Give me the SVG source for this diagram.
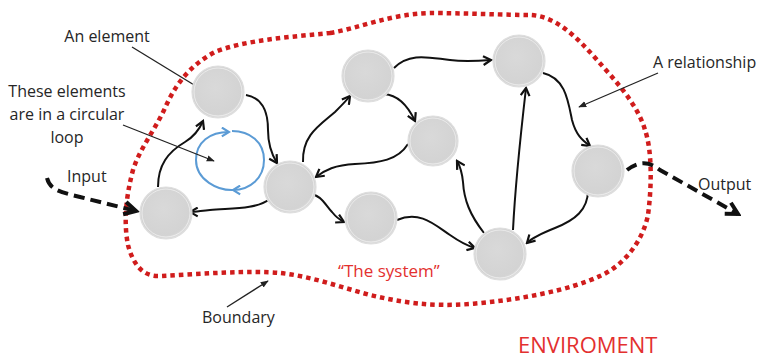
<svg xmlns="http://www.w3.org/2000/svg" width="761" height="358" viewBox="0 0 761 358">
  <style>
    .lbl { font-family: "Open Sans", "Liberation Sans", sans-serif; font-size: 16px; fill: #262626; }
    .red { font-family: "Open Sans", "Liberation Sans", sans-serif; fill: #e3302f; }
    .edge { fill: none; stroke: #111; stroke-width: 2; marker-end: url(#arr); }
    .ptr { fill: none; stroke: #222; stroke-width: 1.3; marker-end: url(#tip); }
    .io { fill: none; stroke: #111; stroke-width: 4; stroke-dasharray: 11 6; marker-end: url(#big); }
    .node { fill: url(#ball); stroke: #dedede; stroke-width: 1.2; }
    .rim { fill: none; stroke: #ffffff; stroke-opacity: 0.5; stroke-width: 1; }
  </style>
  <defs>
    <radialGradient id="ball" cx="0.45" cy="0.42" r="0.6">
      <stop offset="0" stop-color="#d9d9d9"/>
      <stop offset="0.85" stop-color="#d3d3d3"/>
      <stop offset="1" stop-color="#dedede"/>
    </radialGradient>
    <marker id="arr" viewBox="0 0 10 10" refX="8.5" refY="5" markerWidth="11" markerHeight="11" markerUnits="userSpaceOnUse" orient="auto">
      <path d="M1.5,1 L8.5,5 L1.5,9" fill="none" stroke="#111" stroke-width="2"/>
    </marker>
    <marker id="tip" viewBox="0 0 10 10" refX="9" refY="5" markerWidth="8" markerHeight="8" markerUnits="userSpaceOnUse" orient="auto">
      <path d="M0,1 L10,5 L0,9 Z" fill="#222"/>
    </marker>
    <marker id="big" viewBox="0 0 10 10" refX="8" refY="5" markerWidth="18" markerHeight="18" markerUnits="userSpaceOnUse" orient="auto">
      <path d="M1.5,1.5 L8,5 L1.5,8.5" fill="none" stroke="#111" stroke-width="2.2"/>
    </marker>
    <marker id="blue" viewBox="0 0 10 10" refX="8" refY="5" markerWidth="11" markerHeight="11" markerUnits="userSpaceOnUse" orient="auto">
      <path d="M1.5,1 L8,5 L1.5,9" fill="none" stroke="#5b9bd5" stroke-width="2"/>
    </marker>
  </defs>

  <!-- system boundary -->
  <path id="boundary" d="M330,33 C360,28 390,14 430,13 C460,13 510,15 530,15 C555,16 575,35 597,60 C615,80 638,105 645,130 C652,150 652,185 648,215 C643,240 625,265 600,276 C570,290 520,300 470,304 C430,307 400,302 370,295 C340,287 310,276 280,273 C250,270 200,274 160,276 C140,277 132,260 128,245 C124,225 125,200 133,170 C140,148 155,130 165,108 C175,85 190,65 215,52 C245,40 290,37 330,33 Z" fill="none" stroke="#d01c1c" stroke-width="4.5" stroke-dasharray="4.5 4"/>

  <!-- circular loop -->
  <g id="loop" fill="none" stroke="#5b9bd5" stroke-width="2">
    <path d="M234,190 C218,191 196,180 196,160 C196,142 210,132 229,132" marker-end="url(#blue)"/>
    <path d="M232,131 C250,131 264,142 264,160 C264,178 250,190 233,190" marker-end="url(#blue)"/>
  </g>

  <!-- relationships -->
  <g id="connectors">
    <path class="edge" d="M246,95 C262,98 268,110 268,130 C268,145 272,155 277,163"/>
    <path class="edge" d="M158,187 C158,165 168,152 185,142 C195,136 200,128 203,121"/>
    <path class="edge" d="M270,199 C255,210 230,208 210,210 C200,211 195,212 190,212"/>
    <path class="edge" d="M303,162 C302,135 320,125 335,112 C342,105 347,100 350,96"/>
    <path class="edge" d="M408,144 C398,160 380,163 355,164 C335,165 325,170 316,177"/>
    <path class="edge" d="M394,68 C410,52 430,58 450,60 C465,62 478,61 491,60"/>
    <path class="edge" d="M384,94 C398,95 408,106 415,121"/>
    <path class="edge" d="M543,73 C565,78 568,100 572,120 C576,135 582,140 590,146"/>
    <path class="edge" d="M513,230 C515,190 520,140 526,88"/>
    <path class="edge" d="M484,233 C470,215 464,200 463,182 C462,172 460,166 457,161"/>
    <path class="edge" d="M397,220 C420,210 435,225 450,235 C460,242 468,246 475,248"/>
    <path class="edge" d="M308,193 C322,195 325,205 332,212 C336,217 340,220 344,222"/>
    <path class="edge" d="M588,190 C588,210 575,220 555,228 C540,234 532,238 527,243"/>
    <!-- input and output flows -->
    <path class="io" d="M47,178 C50,190 60,192 80,197 L136,211"/>
    <path class="io" d="M627,170 C640,160 650,162 660,170 L738,214"/>
    <!-- label pointers -->
    <path class="ptr" d="M132,47 L204,91"/>
    <path class="ptr" d="M123,125 L214,161"/>
    <path class="ptr" d="M227,307 L268,281"/>
    <path class="ptr" d="M658,73 L579,107"/>
  </g>

  <!-- elements -->
  <g id="n1"><circle class="node" cx="218" cy="92" r="26"/><circle class="rim" cx="218" cy="92" r="24"/></g>
  <g id="n2"><circle class="node" cx="166" cy="213" r="26"/><circle class="rim" cx="166" cy="213" r="24"/></g>
  <g id="n3"><circle class="node" cx="290" cy="187" r="26"/><circle class="rim" cx="290" cy="187" r="24"/></g>
  <g id="n4"><circle class="node" cx="368" cy="76" r="26"/><circle class="rim" cx="368" cy="76" r="24"/></g>
  <g id="n5"><circle class="node" cx="433" cy="141" r="25"/><circle class="rim" cx="433" cy="141" r="23"/></g>
  <g id="n6"><circle class="node" cx="519" cy="61" r="26"/><circle class="rim" cx="519" cy="61" r="24"/></g>
  <g id="n7"><circle class="node" cx="598" cy="171" r="26"/><circle class="rim" cx="598" cy="171" r="24"/></g>
  <g id="n8"><circle class="node" cx="371" cy="218" r="26"/><circle class="rim" cx="371" cy="218" r="24"/></g>
  <g id="n9"><circle class="node" cx="500" cy="254" r="26"/><circle class="rim" cx="500" cy="254" r="24"/></g>

  <!-- labels -->
  <g id="labels">
    <text class="lbl" x="107" y="42" text-anchor="middle">An element</text>
    <text class="lbl" x="67" y="97" text-anchor="middle">These elements</text>
    <text class="lbl" x="67" y="120" text-anchor="middle">are in a circular</text>
    <text class="lbl" x="67" y="143" text-anchor="middle">loop</text>
    <text class="lbl" x="67" y="182">Input</text>
    <text class="lbl" x="202" y="323">Boundary</text>
    <text class="lbl" x="653" y="68">A relationship</text>
    <text class="lbl" x="698" y="190">Output</text>
    <text class="red" x="338" y="277" font-size="17">“The system”</text>
    <text class="red" x="518" y="353" font-size="22">ENVIROMENT</text>
  </g>
</svg>
